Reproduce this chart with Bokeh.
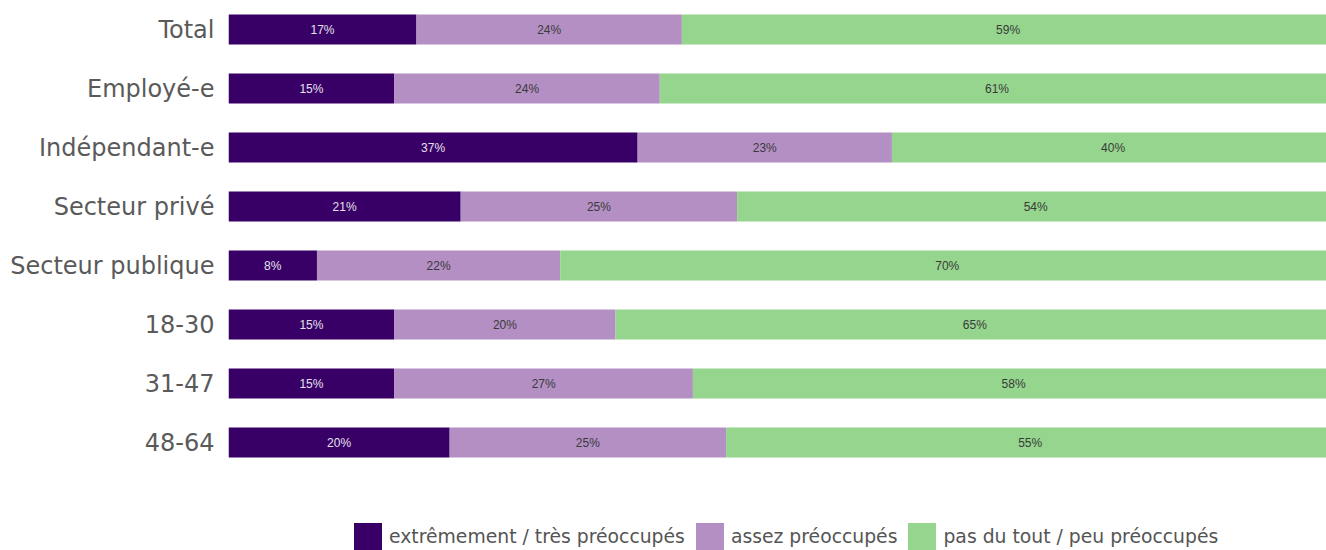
from bokeh.plotting import figure
from bokeh.models import ColumnDataSource, Range1d, FixedTicker, Legend, LegendItem
from bokeh.core.properties import value
from bokeh.embed import file_html
from bokeh.resources import INLINE

categories = ["Total", "Employé-e", "Indépendant-e", "Secteur privé",
              "Secteur publique", "18-30", "31-47", "48-64"]
extreme = [17, 15, 37, 21, 8, 15, 15, 20]
assez = [24, 24, 23, 25, 22, 20, 27, 25]
pas = [59, 61, 40, 54, 70, 65, 58, 55]
series_names = ["extrêmement / très préoccupés", "assez préoccupés",
                "pas du tout / peu préoccupés"]
colors = ["#380066", "#b48fc4", "#95d58d"]
label_colors = ["#e6e0ee", "#3a3a3a", "#3a3a3a"]

series = [extreme, assez, pas]
ys = list(range(len(categories)))

p = figure(width=1326, height=550, x_range=Range1d(0, 99.3),
           y_range=Range1d(8.83, -0.4915), output_backend="svg",
           toolbar_location=None, min_border_left=228, min_border_right=0,
           min_border_top=0, min_border_bottom=0)

p.xaxis.visible = False
p.xgrid.visible = False
p.ygrid.visible = False
p.outline_line_color = None
p.background_fill_color = "white"
p.border_fill_color = "white"

ax = p.yaxis[0]
ax.ticker = FixedTicker(ticks=ys)
ax.major_label_overrides = {i: c for i, c in zip(ys, categories)}
ax.axis_line_color = None
ax.major_tick_line_color = None
ax.minor_tick_line_color = None
ax.major_tick_in = 0
ax.major_tick_out = 0
ax.major_label_standoff = 14
ax.major_label_text_font = "DejaVu Sans"
ax.major_label_text_font_size = "24px"
ax.major_label_text_color = "#5a5a5a"

items = []
lefts = [0] * len(categories)
for vals, name, col, lcol in zip(series, series_names, colors, label_colors):
    rights = [l + v for l, v in zip(lefts, vals)]
    src = ColumnDataSource(dict(y=ys, left=lefts, right=rights,
                                mid=[(l + r) / 2 for l, r in zip(lefts, rights)],
                                lab=[f"{v}%" for v in vals]))
    r = p.hbar(y="y", left="left", right="right", height=0.508, source=src,
               fill_color=col, line_color=None)
    p.text(x="mid", y="y", text="lab", source=src, text_align="center",
           text_baseline="middle", text_font=value("Liberation Sans"),
           text_font_size="12px", text_color=lcol)
    items.append(LegendItem(label=name, renderers=[r]))
    lefts = rights

legend = Legend(items=items, orientation="horizontal", location=(122, -4),
                padding=0, margin=0, spacing=7, label_standoff=4,
                glyph_width=35, glyph_height=35,
                label_text_font="DejaVu Sans", label_text_font_size="18.8px",
                label_text_color="#555555", border_line_color=None,
                background_fill_alpha=0)
p.add_layout(legend, "center")

open("out.html", "w").write(file_html(p, INLINE))
